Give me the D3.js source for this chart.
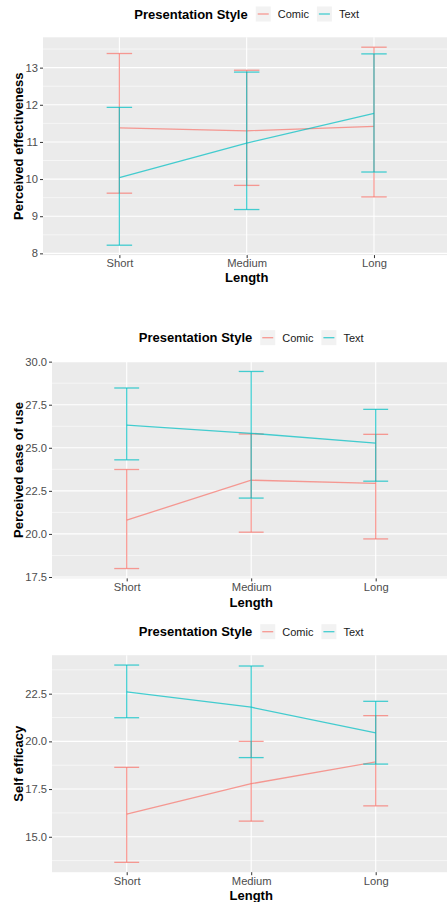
<!DOCTYPE html>
<html>
<head>
<meta charset="utf-8">
<script src="https://cdn.jsdelivr.net/npm/d3@7"></script>
<style>
  body { margin: 0; background: #fff; }
  text { font-family: "Liberation Sans", Arial, sans-serif; }
</style>
</head>
<body>
<div id="chart"></div>
<script>
// categories and series
const lengths = ["Short", "Medium", "Long"]
const styles = ["Comic", "Text"]

// perceived effectiveness
const effComicMean = [11.38, 11.30, 11.42]
const effComicLow = [9.62, 9.83, 9.52]
const effComicHigh = [13.38, 12.93, 13.55]
const effTextMean = [10.04, 10.97, 11.77]
const effTextLow = [8.22, 9.18, 10.19]
const effTextHigh = [11.93, 12.88, 13.37]
const effTicks = [8, 9, 10, 11, 12, 13]

// perceived ease of use
const easeComicMean = [20.80, 23.12, 22.93]
const easeComicLow = [17.99, 20.10, 19.71]
const easeComicHigh = [23.74, 25.80, 25.78]
const easeTextMean = [26.32, 25.84, 25.27]
const easeTextLow = [24.30, 22.08, 23.06]
const easeTextHigh = [28.47, 29.43, 27.23]
const easeTicks = [17.5, 20.0, 22.5, 25.0, 27.5, 30.0]

// self efficacy
const effiComicMean = [16.19, 17.78, 18.92]
const effiComicLow = [13.66, 15.82, 16.62]
const effiComicHigh = [18.64, 20.00, 21.35]
const effiTextMean = [22.60, 21.79, 20.44]
const effiTextLow = [21.24, 19.15, 18.81]
const effiTextHigh = [24.00, 23.95, 22.10]
const effiTicks = [15.0, 17.5, 20.0, 22.5]

const colors = { Comic: "#F8766D", Text: "#00BFC4" }

const build = (mean, low, high) => lengths.map((len, i) => ({ len, mean: mean[i], low: low[i], high: high[i] }))

const panels = [
  {
    title: "Perceived effectiveness", ticks: effTicks, fmt: d3.format("d"),
    series: { Comic: build(effComicMean, effComicLow, effComicHigh), Text: build(effTextMean, effTextLow, effTextHigh) },
    left: 43, top: 37.3, bottom: 255.1, step: 127.3, legendY: 14, ytitleX: 22.7, tickY: 267.3, xtitleY: 282
  },
  {
    title: "Perceived ease of use", ticks: easeTicks, fmt: d3.format(".1f"),
    series: { Comic: build(easeComicMean, easeComicLow, easeComicHigh), Text: build(easeTextMean, easeTextLow, easeTextHigh) },
    left: 52, top: 361.6, bottom: 578.4, step: 124.5, legendY: 337.7, ytitleX: 23.3, tickY: 591, xtitleY: 606.5
  },
  {
    title: "Self efficacy", ticks: effiTicks, fmt: d3.format(".1f"),
    series: { Comic: build(effiComicMean, effiComicLow, effiComicHigh), Text: build(effiTextMean, effiTextLow, effiTextHigh) },
    left: 52, top: 655.2, bottom: 872.2, step: 124.5, legendY: 631.7, ytitleX: 23.3, tickY: 885, xtitleY: 900
  }
]

const W = 447, H = 902
const svg = d3.select("#chart").append("svg")
  .attr("width", W).attr("height", H)

panels.forEach(p => {
  const g = svg.append("g")
  const right = p.left + 3.2 * p.step

  // x: discrete scale with 0.6 expansion each side
  const x = d3.scalePoint().domain(lengths)
    .range([p.left + 0.6 * p.step, p.left + 2.6 * p.step])

  // y: 5% expansion of the data range
  const all = styles.flatMap(s => p.series[s].flatMap(d => [d.low, d.high]))
  const lo = d3.min(all), hi = d3.max(all), pad = (hi - lo) * 0.05
  const y = d3.scaleLinear().domain([lo - pad, hi + pad]).range([p.bottom, p.top])

  // panel
  g.append("rect")
    .attr("x", p.left).attr("y", p.top)
    .attr("width", right - p.left).attr("height", p.bottom - p.top)
    .attr("fill", "#EBEBEB")

  // minor grid
  const stepY = p.ticks[1] - p.ticks[0]
  const minors = [p.ticks[0] - stepY / 2, ...p.ticks.map(t => t + stepY / 2)]
    .filter(v => v >= y.domain()[0] && v <= y.domain()[1])
  g.selectAll(".minor").data(minors).enter().append("line")
    .attr("x1", p.left).attr("x2", right)
    .attr("y1", d => y(d)).attr("y2", d => y(d))
    .attr("stroke", "#fff").attr("stroke-width", 0.55)

  // major grid
  g.selectAll(".majorY").data(p.ticks).enter().append("line")
    .attr("x1", p.left).attr("x2", right)
    .attr("y1", d => y(d)).attr("y2", d => y(d))
    .attr("stroke", "#fff").attr("stroke-width", 1.1)
  g.selectAll(".majorX").data(lengths).enter().append("line")
    .attr("x1", d => x(d)).attr("x2", d => x(d))
    .attr("y1", p.top).attr("y2", p.bottom)
    .attr("stroke", "#fff").attr("stroke-width", 1.1)

  // axes
  const yAxis = g.append("g").attr("transform", `translate(${p.left},0)`)
    .call(d3.axisLeft(y).tickValues(p.ticks).tickFormat(p.fmt).tickSize(3).tickPadding(2))
  const xAxis = g.append("g").attr("transform", `translate(0,${p.bottom})`)
    .call(d3.axisBottom(x).tickSize(3).tickPadding(2))
  ;[yAxis, xAxis].forEach(a => {
    a.select(".domain").remove()
    a.selectAll(".tick line").attr("stroke", "#333").attr("stroke-width", 1)
    a.selectAll(".tick text").attr("fill", "#4D4D4D")
      .style("font-size", "11.2px")
      .style("font-family", "'Liberation Sans', Arial, sans-serif")
  })
  xAxis.selectAll(".tick text").attr("dy", null).attr("y", p.tickY - p.bottom)

  // titles
  g.append("text")
    .attr("x", x("Medium")).attr("y", p.xtitleY)
    .attr("text-anchor", "middle")
    .style("font-size", "13px").style("font-weight", "bold")
    .text("Length")
  g.append("text")
    .attr("transform", `translate(${p.ytitleX},${(p.top + p.bottom) / 2}) rotate(-90)`)
    .attr("text-anchor", "middle")
    .style("font-size", "13px").style("font-weight", "bold")
    .text(p.title)

  // data: comic first, text on top
  const half = 0.1 * p.step
  styles.forEach(s => {
    const data = p.series[s]
    const sg = g.append("g")
      .attr("stroke", colors[s]).attr("stroke-opacity", 0.72)
      .attr("stroke-width", 1.3).attr("fill", "none")
    sg.append("path")
      .attr("d", d3.line().x(d => x(d.len)).y(d => y(d.mean))(data))
    const bars = sg.selectAll(".eb").data(data).enter().append("g")
    bars.append("line")
      .attr("x1", d => x(d.len)).attr("x2", d => x(d.len))
      .attr("y1", d => y(d.low)).attr("y2", d => y(d.high))
    bars.append("line")
      .attr("x1", d => x(d.len) - half).attr("x2", d => x(d.len) + half)
      .attr("y1", d => y(d.low)).attr("y2", d => y(d.low))
    bars.append("line")
      .attr("x1", d => x(d.len) - half).attr("x2", d => x(d.len) + half)
      .attr("y1", d => y(d.high)).attr("y2", d => y(d.high))
  })

  // legend, centered over the panel
  const lg = g.append("g")
  const title = lg.append("text")
    .attr("y", p.legendY + 4.6)
    .style("font-size", "13px").style("font-weight", "bold")
    .text("Presentation Style")
  let cx = title.node().getComputedTextLength() + 8
  styles.forEach((s, i) => {
    lg.append("rect")
      .attr("x", cx).attr("y", p.legendY - 7.5)
      .attr("width", 15).attr("height", 15).attr("fill", "#F2F2F2")
    lg.append("line")
      .attr("x1", cx + 2).attr("x2", cx + 13)
      .attr("y1", p.legendY).attr("y2", p.legendY)
      .attr("stroke", colors[s]).attr("stroke-opacity", 0.72).attr("stroke-width", 1.3)
    cx += 22
    const t = lg.append("text")
      .attr("x", cx).attr("y", p.legendY + 4)
      .attr("fill", "#1a1a1a")
      .style("font-size", "11px")
      .text(s)
    cx += t.node().getComputedTextLength() + (i === 0 ? 8 : 0)
  })
  lg.attr("transform", `translate(${x("Medium") - cx / 2},0)`)
})
</script>
</body>
</html>
